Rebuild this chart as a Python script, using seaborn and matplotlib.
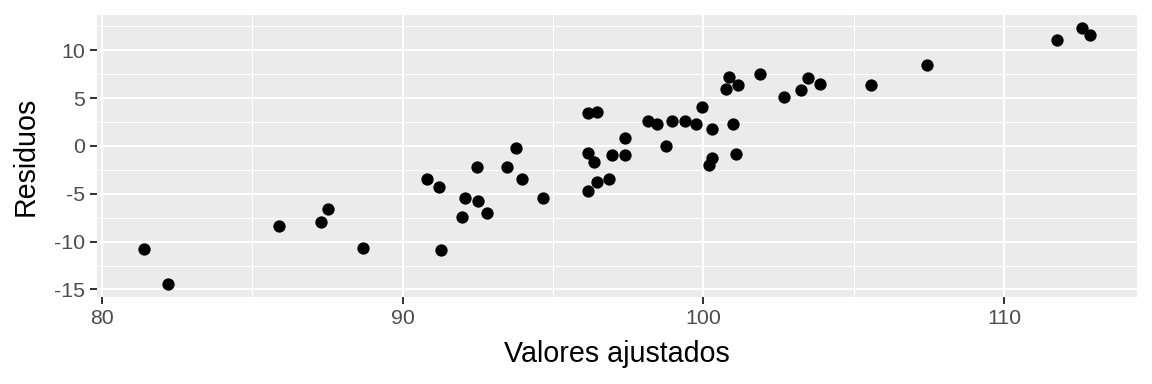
import matplotlib
matplotlib.use("Agg")
import matplotlib.pyplot as plt
from matplotlib.ticker import MultipleLocator
import seaborn as sns
import pandas as pd

# fitted values vs residuals
ajustados = [81.40, 82.20, 85.89, 87.28, 87.50, 88.69, 90.79, 91.19, 91.28, 91.98,
             92.08, 92.47, 92.49, 92.79, 93.48, 93.78, 93.98, 94.68, 96.16, 96.47,
             96.16, 96.37, 96.16, 96.47, 96.87, 96.97, 97.38, 97.38, 98.16, 98.46,
             98.77, 98.97, 99.37, 99.76, 99.96, 100.17, 100.27, 100.27, 100.76, 100.86,
             100.97, 101.07, 101.16, 101.87, 102.67, 103.26, 103.47, 103.86, 105.56, 107.45,
             111.75, 112.58, 112.85]
residuos = [-10.74, -14.45, -8.38, -7.97, -6.58, -10.63, -3.49, -4.26, -10.90, -7.41,
            -5.40, -2.18, -5.75, -6.96, -2.18, -0.21, -3.46, -5.47, 3.47, 3.53,
            -0.79, -1.69, -4.71, -3.77, -3.49, -0.97, -0.97, 0.83, 2.60, 2.26,
            0.00, 2.60, 2.60, 2.29, 4.10, -2.01, -1.31, 1.74, 6.00, 7.25,
            2.26, -0.89, 6.38, 7.53, 5.13, 5.82, 7.11, 6.44, 6.38, 8.46,
            11.10, 12.35, 11.60]

df = pd.DataFrame({"Valores ajustados": ajustados, "Residuos": residuos})

sns.set_theme(style="darkgrid", rc={
    "axes.facecolor": "#EBEBEB",
    "grid.color": "white",
    "axes.edgecolor": "#EBEBEB",
})
plt.rcParams["font.family"] = ["Liberation Sans", "DejaVu Sans"]
plt.rcParams["axes.unicode_minus"] = False

fig, ax = plt.subplots(figsize=(12, 4), dpi=96)
fig.subplots_adjust(left=0.0842, right=0.987, top=0.961, bottom=0.2266)

sns.scatterplot(data=df, x="Valores ajustados", y="Residuos", ax=ax,
                color="black", s=85, linewidth=0, zorder=3)

ax.set_xlim(79.83, 114.42)
ax.set_ylim(-15.79, 13.69)
ax.xaxis.set_major_locator(MultipleLocator(10))
ax.xaxis.set_minor_locator(MultipleLocator(5))
ax.yaxis.set_major_locator(MultipleLocator(5))
ax.yaxis.set_minor_locator(MultipleLocator(2.5))
ax.grid(which="major", color="white", linewidth=1.5)
ax.grid(which="minor", color="white", linewidth=0.75)
for s in ax.spines.values():
    s.set_visible(False)

ax.tick_params(which="major", length=5, width=1.5, color="#333333",
               labelcolor="#4D4D4D", labelsize=16, bottom=True, left=True, pad=4)
ax.tick_params(which="minor", length=0)
ax.set_xlabel("Valores ajustados", fontsize=21.5, color="black", labelpad=9)
ax.set_ylabel("Residuos", fontsize=21.5, color="black", labelpad=11)

fig.savefig("out.png", dpi=96)
